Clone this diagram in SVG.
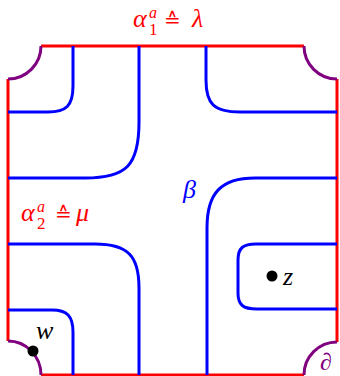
<svg xmlns="http://www.w3.org/2000/svg" width="340" height="376" viewBox="0 0 340 376">
<style>
.red{fill:none;stroke:#ff0000;stroke-width:3}
.pur{fill:none;stroke:#800080;stroke-width:3}
.blue{fill:none;stroke:#0000ff;stroke-width:3}
.t{font-family:"Liberation Serif",serif;font-style:italic}
.n{font-family:"Liberation Serif",serif}
.eq{font-family:"DejaVu Sans",sans-serif}
.r{fill:#ff0000}
.b{fill:#0000ff}
.k{fill:#000000}
</style>
<rect width="340" height="376" fill="#ffffff"/>
<g id="boundary">
<path class="red" d="M41,46 H304"/>
<path class="red" d="M8,79 V341"/>
<path class="red" d="M337,79 V342"/>
<path class="red" d="M41,375 H304"/>
<path class="pur" d="M41,46 A33,33 0 0 1 8,79"/>
<path class="pur" d="M304,46 A33,33 0 0 0 337,79"/>
<path class="pur" d="M8,341 A33,34 0 0 1 41,375"/>
<path class="pur" d="M304,375 A33,33 0 0 1 337,342"/>
</g>
<g id="connectors">
<path class="blue" d="M73,46 V86 C73,106 66,112 48,112 H8"/>
<path class="blue" d="M139,46 V122 C139,166 126,178 85,178 H8"/>
<path class="blue" d="M206,46 V80 C206,104 214,112 240,112 H337"/>
<path class="blue" d="M337,178 H255 C221,178 207,193 207,228 V375"/>
<path class="blue" d="M8,244 H95 C128,244 139,256 139,288 V375"/>
<path class="blue" d="M8,310 H52 C67,310 73,316 73,332 V375"/>
<path class="blue" d="M337,244 H256 C243,244 238,248 238,260 V293 C238,305 243,309 257,309 H337"/>
</g>
<g id="label-alpha1">
<text class="t r" x="133" y="27" font-size="26">α</text>
<text class="t r" x="149" y="18" font-size="16">a</text>
<text class="n r" x="149" y="35" font-size="17">1</text>
<text class="eq r" x="164" y="27" font-size="20">≙</text>
<text class="t r" x="192" y="27" font-size="26">λ</text>
</g>
<g id="label-alpha2">
<text class="t r" x="21" y="221" font-size="26">α</text>
<text class="t r" x="37" y="212" font-size="16">a</text>
<text class="n r" x="37" y="229" font-size="17">2</text>
<text class="eq r" x="55" y="221" font-size="20">≙</text>
<text class="t r" x="76" y="221" font-size="26">μ</text>
</g>
<g id="label-beta">
<text class="t b" x="183" y="198" font-size="26">β</text>
</g>
<g id="w">
<circle cx="33" cy="351" r="5.5" class="k"/>
<text class="t k" x="36" y="339" font-size="26">w</text>
</g>
<g id="z">
<circle cx="272" cy="276" r="5.5" class="k"/>
<text class="t k" x="283" y="285" font-size="26">z</text>
</g>
<g id="d">
<text class="t" x="320" y="370" font-size="24" fill="#800080">∂</text>
</g>
</svg>
